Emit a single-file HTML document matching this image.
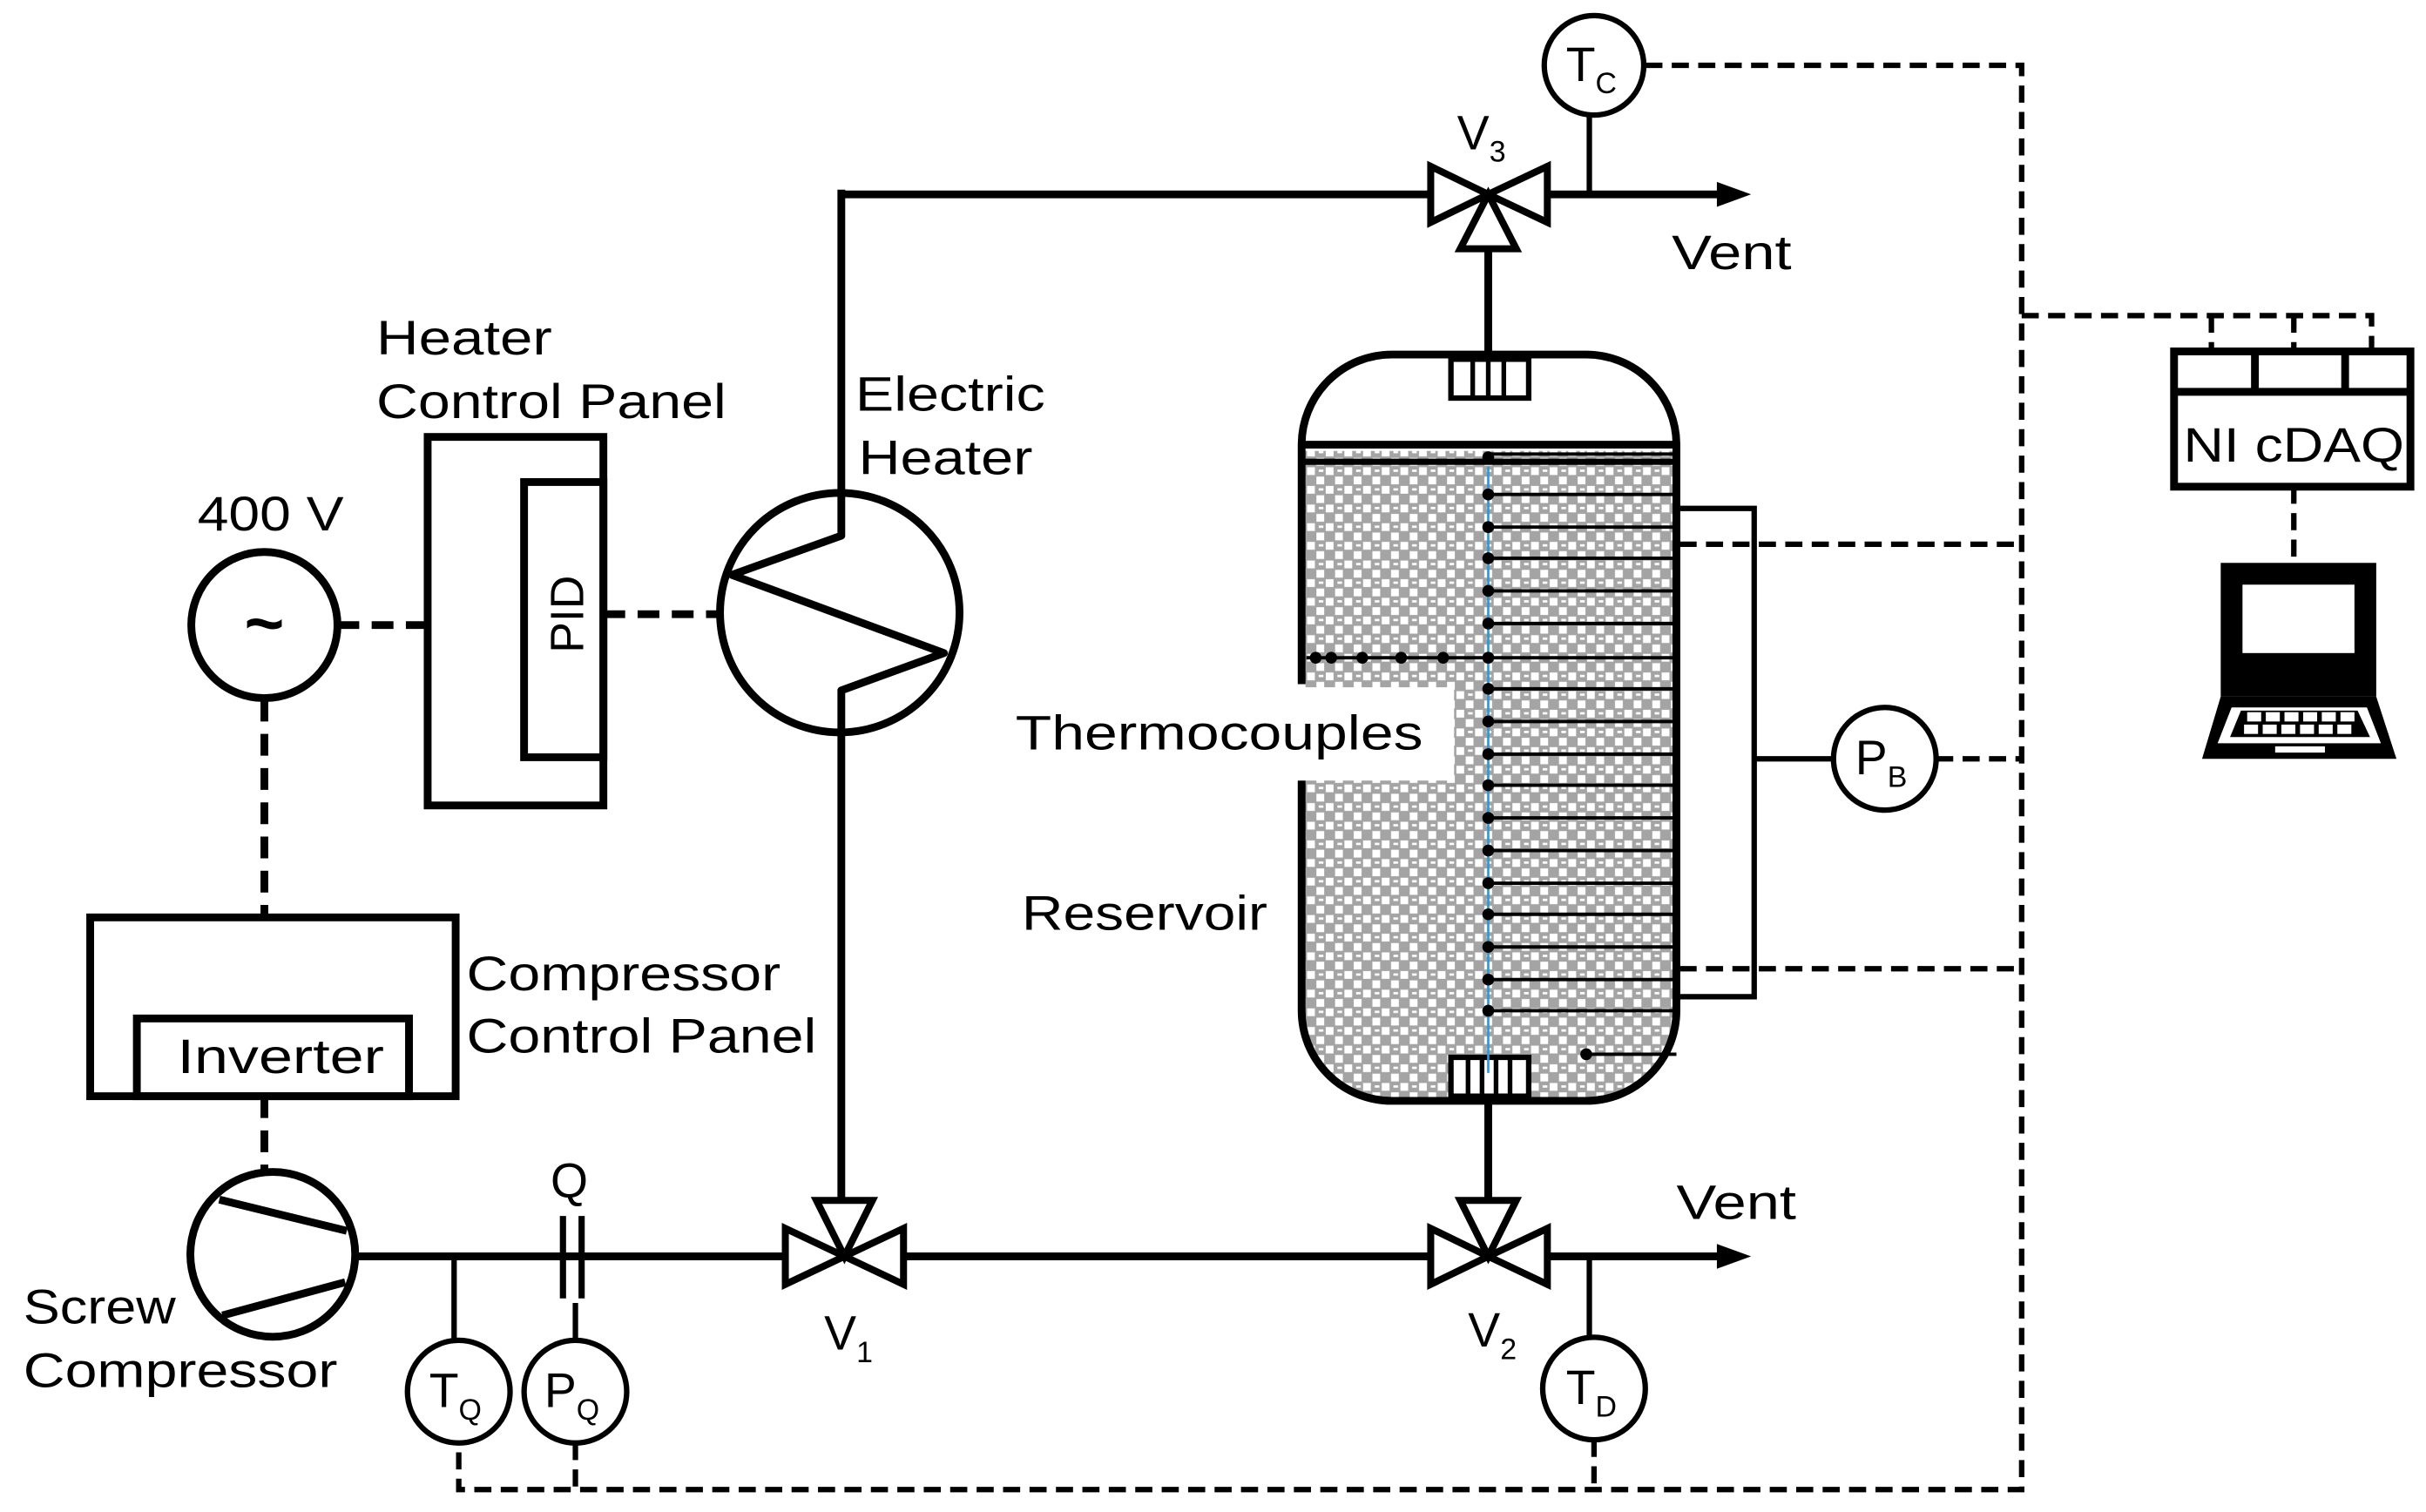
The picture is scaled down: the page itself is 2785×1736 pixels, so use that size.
<!DOCTYPE html>
<html><head><meta charset="utf-8"><style>
html,body{margin:0;padding:0;background:#fff;}
svg{display:block;}
text{font-family:"Liberation Sans",sans-serif;fill:#000;}
</style></head><body>
<svg width="2785" height="1736" viewBox="0 0 1560 972.4" xmlns="http://www.w3.org/2000/svg">
<defs>
<pattern id="hp" width="12" height="12" patternUnits="userSpaceOnUse">
<rect width="12" height="12" fill="#a4a4a4"/>
<rect x="0.5" y="0.5" width="5" height="5" fill="#fff"/>
<rect x="6.5" y="6.5" width="5" height="5" fill="#fff"/>
<rect x="8" y="2" width="3" height="1.5" fill="#fff"/>
</pattern>
<clipPath id="vc"><path d="M895,228 H1020 A58,58 0 0 1 1078,286 V650 A58,58 0 0 1 1020,708 H895 A58,58 0 0 1 837,650 V286 A58,58 0 0 1 895,228z"/></clipPath>
</defs>
<g fill="none" stroke="#000" stroke-width="5">
<g clip-path="url(#vc)">
<rect x="838" y="290" width="240" height="418" fill="url(#hp)" stroke="none"/>
</g>
<rect x="836" y="442" width="99" height="60" fill="#fff" stroke="none"/>
<path d="M895,228 H1020 A58,58 0 0 1 1078,286 V650 A58,58 0 0 1 1020,708 H895 A58,58 0 0 1 837,650 V502 M837,440 V286 A58,58 0 0 1 895,228"/>
<line x1="837" y1="286" x2="1078" y2="286"/>
<line x1="837" y1="297" x2="1078" y2="297" stroke-width="4"/>
<rect x="933" y="231" width="50" height="25" stroke-width="3.5" fill="#fff"/>
<path d="M947,231V256M957,231V256M967,231V256" stroke-width="3"/>
<rect x="933" y="680" width="50" height="25" stroke-width="3.5" fill="#fff"/>
<path d="M944,680V705M953,680V705M962,680V705M971,680V705" stroke-width="3"/>
<line x1="957" y1="300" x2="957" y2="690" stroke="#2a9ad8" stroke-width="1.5"/>
<g stroke-width="2.2">
<line x1="957" y1="292" x2="1078" y2="292"/>
<line x1="957" y1="318" x2="1078" y2="318"/><line x1="957" y1="339" x2="1078" y2="339"/>
<line x1="957" y1="359" x2="1078" y2="359"/><line x1="957" y1="380" x2="1078" y2="380"/>
<line x1="957" y1="401" x2="1078" y2="401"/><line x1="840" y1="423" x2="1078" y2="423"/>
<line x1="957" y1="443" x2="1078" y2="443"/><line x1="957" y1="464" x2="1078" y2="464"/>
<line x1="957" y1="485" x2="1078" y2="485"/><line x1="957" y1="505" x2="1078" y2="505"/>
<line x1="957" y1="526" x2="1078" y2="526"/><line x1="957" y1="547" x2="1078" y2="547"/>
<line x1="957" y1="568" x2="1078" y2="568"/><line x1="957" y1="588" x2="1078" y2="588"/>
<line x1="957" y1="609" x2="1078" y2="609"/><line x1="957" y1="630" x2="1078" y2="630"/>
<line x1="957" y1="650" x2="1078" y2="650"/><line x1="1020" y1="678" x2="1078" y2="678"/>
</g>
<g fill="#000" stroke="none">
<circle cx="957" cy="294" r="3.8"/><circle cx="957" cy="318" r="3.8"/><circle cx="957" cy="339" r="3.8"/><circle cx="957" cy="359" r="3.8"/><circle cx="957" cy="380" r="3.8"/><circle cx="957" cy="401" r="3.8"/><circle cx="957" cy="423" r="3.8"/><circle cx="957" cy="443" r="3.8"/><circle cx="957" cy="464" r="3.8"/><circle cx="957" cy="485" r="3.8"/><circle cx="957" cy="505" r="3.8"/><circle cx="957" cy="526" r="3.8"/><circle cx="957" cy="547" r="3.8"/><circle cx="957" cy="568" r="3.8"/><circle cx="957" cy="588" r="3.8"/><circle cx="957" cy="609" r="3.8"/><circle cx="957" cy="630" r="3.8"/><circle cx="957" cy="650" r="3.8"/><circle cx="1020" cy="678" r="3.8"/>
<circle cx="846" cy="423" r="3.8"/><circle cx="856" cy="423" r="3.8"/><circle cx="876" cy="423" r="3.8"/><circle cx="901" cy="423" r="3.8"/><circle cx="928" cy="423" r="3.8"/>
</g>
<path d="M1080,327 H1128 V641 H1080 M1128,488 H1179" stroke-width="3.5"/>
<circle cx="1212" cy="488" r="33" stroke-width="3.5" fill="#fff"/>
<path d="M541,125 H920 M995,125 H1110"/>
<path d="M230,808 H505 M582,808 H920 M995,808 H1110"/>
<path d="M541,122 V344.5 L470.6,369.7 L607,420 L541,444 V775" stroke-linejoin="round"/>
<circle cx="540" cy="394" r="77"/>
<line x1="957" y1="160" x2="957" y2="228"/>
<line x1="957" y1="708" x2="957" y2="772"/>
<path d="M1104,117 L1126,125 L1104,133z" fill="#000" stroke="none"/>
<path d="M1104,800 L1126,808 L1104,816z" fill="#000" stroke="none"/>
<g stroke-width="4.5" fill="#fff" stroke-linejoin="miter">
<path d="M505,790 L543,808 L505,826z M581,790 L543,808 L581,826z M525,772 L561,772 L543,808z"/>
<path d="M920,790 L957,808 L920,826z M995,790 L957,808 L995,826z M939,772 L975,772 L957,808z"/>
<path d="M920,107 L957,125 L920,143z M995,107 L957,125 L995,143z M939,160 L975,160 L957,125z"/>
</g>
<path d="M1022,125 V75 M292,808 V862 M1022,808 V860 M370,838 V862" stroke-width="3.5"/>
<path d="M362,782 V835 M374,782 V835" stroke-width="4"/>
<g stroke-width="3.5" fill="#fff">
<circle cx="1025" cy="42" r="32"/>
<circle cx="295" cy="895" r="33"/>
<circle cx="370" cy="895" r="33"/>
<circle cx="1025" cy="893" r="33"/>
</g>
<g stroke-dasharray="11,6" stroke-width="3.5">
<path d="M1058,42 H1300 V958 H295 V928 M370,928 V958 M1025,926 V958"/>
<path d="M1080,350 H1300 M1080,623 H1300 M1245,488 H1300"/>
<path d="M1300,203 H1525 V225 M1422,203 V225 M1475,203 V225"/>
<path d="M1475,313 V362"/>
</g>
<g stroke-dasharray="14,8" stroke-width="5">
<path d="M217,402 H275 M388,395 H465 M170,450 V590 M170,705 V752"/>
</g>
<rect x="1398" y="226" width="152" height="87"/>
<path d="M1398,252 H1550 M1450,226 V252 M1508,226 V252"/>
<rect x="1428" y="362" width="100" height="86" fill="#000" stroke="none"/>
<rect x="1442" y="376" width="72" height="44" fill="#fff" stroke="none"/>
<path d="M1428,448 L1416,488 H1541 L1528,448z" fill="#000" stroke="none"/>
<path d="M1435,455 L1426,478 H1531 L1522,455z" fill="#fff" stroke="none"/>
<path d="M1441,457 L1434,474 H1524 L1516,457z" fill="#000" stroke="none"/>
<g fill="#fff" stroke="none">
<rect x="1445" y="458" width="9" height="6"/><rect x="1457" y="458" width="9" height="6"/><rect x="1469" y="458" width="9" height="6"/><rect x="1481" y="458" width="9" height="6"/><rect x="1493" y="458" width="9" height="6"/><rect x="1505" y="458" width="9" height="6"/>
<rect x="1443" y="466" width="9" height="6"/><rect x="1455" y="466" width="9" height="6"/><rect x="1467" y="466" width="9" height="6"/><rect x="1479" y="466" width="9" height="6"/><rect x="1491" y="466" width="9" height="6"/><rect x="1503" y="466" width="9" height="6"/>
<rect x="1463" y="480" width="32" height="4"/>
</g>
<circle cx="170" cy="402" r="47"/>
<rect x="275" y="281" width="113" height="237"/>
<rect x="337" y="310" width="51" height="177"/>
<rect x="58" y="590" width="235" height="115"/>
<rect x="88" y="655" width="175" height="50"/>
<circle cx="175.4" cy="806.7" r="53"/>
<path d="M141,771.5 L223,791.6 M143,846 L222,824.6" stroke-width="5"/>
</g>
<g font-size="31">
<text x="242" y="228" textLength="113" lengthAdjust="spacingAndGlyphs">Heater</text>
<text x="242" y="269" textLength="225" lengthAdjust="spacingAndGlyphs">Control Panel</text>
<text x="550" y="264" textLength="122" lengthAdjust="spacingAndGlyphs">Electric</text>
<text x="552" y="305" textLength="112" lengthAdjust="spacingAndGlyphs">Heater</text>
<text x="127" y="341" textLength="94" lengthAdjust="spacingAndGlyphs">400 V</text>
<text x="170" y="416" font-size="44" font-weight="bold" text-anchor="middle">~</text>
<text transform="translate(375,395) rotate(-90)" text-anchor="middle" font-size="30">PID</text>
<text x="653" y="482" textLength="262" lengthAdjust="spacingAndGlyphs">Thermocouples</text>
<text x="657" y="598" textLength="158" lengthAdjust="spacingAndGlyphs">Reservoir</text>
<text x="300" y="637" textLength="202" lengthAdjust="spacingAndGlyphs">Compressor</text>
<text x="300" y="677" textLength="225" lengthAdjust="spacingAndGlyphs">Control Panel</text>
<text x="114" y="690" textLength="133" lengthAdjust="spacingAndGlyphs">Inverter</text>
<text x="15" y="851" textLength="98" lengthAdjust="spacingAndGlyphs">Screw</text>
<text x="15" y="892" textLength="202" lengthAdjust="spacingAndGlyphs">Compressor</text>
<text x="1075" y="173" textLength="77" lengthAdjust="spacingAndGlyphs">Vent</text>
<text x="1078" y="784" textLength="77" lengthAdjust="spacingAndGlyphs">Vent</text>
<text x="354" y="770">Q</text>
<text x="1404" y="297" textLength="142" lengthAdjust="spacingAndGlyphs">NI cDAQ</text>
<text x="937" y="96">V<tspan font-size="19" dy="8">3</tspan></text>
<text x="530" y="868">V<tspan font-size="19" dy="8">1</tspan></text>
<text x="944" y="866">V<tspan font-size="19" dy="8">2</tspan></text>
<text x="1007" y="52">T<tspan font-size="19" dy="8">C</tspan></text>
<text x="1193" y="498">P<tspan font-size="19" dy="8">B</tspan></text>
<text x="276" y="905">T<tspan font-size="19" dy="8">Q</tspan></text>
<text x="350" y="905">P<tspan font-size="19" dy="8">Q</tspan></text>
<text x="1007" y="903">T<tspan font-size="19" dy="8">D</tspan></text>
</g>
</svg>
</body></html>
